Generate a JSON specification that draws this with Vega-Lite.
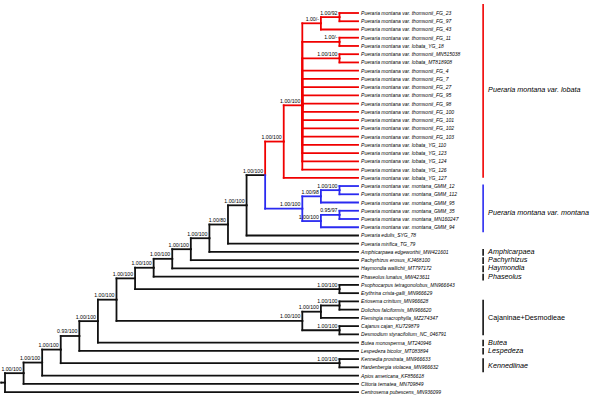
{
  "$schema": "https://vega.github.io/schema/vega-lite/v6.json",
  "width": 600,
  "height": 402,
  "padding": 0,
  "autosize": {"type": "none"},
  "background": "white",
  "view": {"stroke": null},
  "config": {"font": "Liberation Sans"},
  "datasets": {
    "edges": [
      {"px":18,"cx":19,"py":1.5,"cy":1,"g":"lobata"},
      {"px":18,"cx":19,"py":1.5,"cy":2,"g":"lobata"},
      {"px":17,"cx":18,"py":2.25,"cy":1.5,"g":"lobata"},
      {"px":17,"cx":19,"py":2.25,"cy":3,"g":"lobata"},
      {"px":16,"cx":17,"py":12.203,"cy":2.25,"g":"lobata"},
      {"px":18,"cx":19,"py":4.5,"cy":4,"g":"lobata"},
      {"px":18,"cx":19,"py":4.5,"cy":5,"g":"lobata"},
      {"px":16,"cx":18,"py":12.203,"cy":4.5,"g":"lobata"},
      {"px":18,"cx":19,"py":6.5,"cy":6,"g":"lobata"},
      {"px":18,"cx":19,"py":6.5,"cy":7,"g":"lobata"},
      {"px":16,"cx":18,"py":12.203,"cy":6.5,"g":"lobata"},
      {"px":16,"cx":19,"py":12.203,"cy":8,"g":"lobata"},
      {"px":16,"cx":19,"py":12.203,"cy":9,"g":"lobata"},
      {"px":16,"cx":19,"py":12.203,"cy":10,"g":"lobata"},
      {"px":16,"cx":19,"py":12.203,"cy":11,"g":"lobata"},
      {"px":16,"cx":19,"py":12.203,"cy":12,"g":"lobata"},
      {"px":16,"cx":19,"py":12.203,"cy":13,"g":"lobata"},
      {"px":16,"cx":19,"py":12.203,"cy":14,"g":"lobata"},
      {"px":16,"cx":19,"py":12.203,"cy":15,"g":"lobata"},
      {"px":16,"cx":19,"py":12.203,"cy":16,"g":"lobata"},
      {"px":16,"cx":19,"py":12.203,"cy":17,"g":"lobata"},
      {"px":16,"cx":19,"py":12.203,"cy":18,"g":"lobata"},
      {"px":16,"cx":19,"py":12.203,"cy":19,"g":"lobata"},
      {"px":16,"cx":19,"py":12.203,"cy":20,"g":"lobata"},
      {"px":15,"cx":16,"py":16.602,"cy":12.203,"g":"lobata"},
      {"px":15,"cx":19,"py":16.602,"cy":21,"g":"lobata"},
      {"px":14,"cx":15,"py":20.676,"cy":16.602,"g":"lobata"},
      {"px":18,"cx":19,"py":22.5,"cy":22,"g":"montana"},
      {"px":18,"cx":19,"py":22.5,"cy":23,"g":"montana"},
      {"px":17,"cx":18,"py":23.25,"cy":22.5,"g":"montana"},
      {"px":17,"cx":19,"py":23.25,"cy":24,"g":"montana"},
      {"px":16,"cx":17,"py":24.75,"cy":23.25,"g":"montana"},
      {"px":18,"cx":19,"py":25.5,"cy":25,"g":"montana"},
      {"px":18,"cx":19,"py":25.5,"cy":26,"g":"montana"},
      {"px":17,"cx":18,"py":26.25,"cy":25.5,"g":"montana"},
      {"px":17,"cx":19,"py":26.25,"cy":27,"g":"montana"},
      {"px":16,"cx":17,"py":24.75,"cy":26.25,"g":"montana"},
      {"px":14,"cx":16,"py":20.676,"cy":24.75,"g":"montana"},
      {"px":13,"cx":14,"py":24.338,"cy":20.676,"g":"other"},
      {"px":13,"cx":19,"py":24.338,"cy":28,"g":"other"},
      {"px":12,"cx":13,"py":26.669,"cy":24.338,"g":"other"},
      {"px":12,"cx":19,"py":26.669,"cy":29,"g":"other"},
      {"px":11,"cx":12,"py":28.335,"cy":26.669,"g":"other"},
      {"px":11,"cx":19,"py":28.335,"cy":30,"g":"other"},
      {"px":10,"cx":11,"py":29.667,"cy":28.335,"g":"other"},
      {"px":10,"cx":19,"py":29.667,"cy":31,"g":"other"},
      {"px":9,"cx":10,"py":30.834,"cy":29.667,"g":"other"},
      {"px":9,"cx":19,"py":30.834,"cy":32,"g":"other"},
      {"px":8,"cx":9,"py":31.917,"cy":30.834,"g":"other"},
      {"px":8,"cx":19,"py":31.917,"cy":33,"g":"other"},
      {"px":7,"cx":8,"py":33.208,"cy":31.917,"g":"other"},
      {"px":18,"cx":19,"py":34.5,"cy":34,"g":"other"},
      {"px":18,"cx":19,"py":34.5,"cy":35,"g":"other"},
      {"px":7,"cx":18,"py":33.208,"cy":34.5,"g":"other"},
      {"px":6,"cx":7,"py":35.792,"cy":33.208,"g":"other"},
      {"px":18,"cx":19,"py":36.5,"cy":36,"g":"other"},
      {"px":18,"cx":19,"py":36.5,"cy":37,"g":"other"},
      {"px":17,"cx":18,"py":37.25,"cy":36.5,"g":"other"},
      {"px":17,"cx":19,"py":37.25,"cy":38,"g":"other"},
      {"px":16,"cx":17,"py":38.375,"cy":37.25,"g":"other"},
      {"px":18,"cx":19,"py":39.5,"cy":39,"g":"other"},
      {"px":18,"cx":19,"py":39.5,"cy":40,"g":"other"},
      {"px":16,"cx":18,"py":38.375,"cy":39.5,"g":"other"},
      {"px":6,"cx":16,"py":35.792,"cy":38.375,"g":"other"},
      {"px":5,"cx":6,"py":38.396,"cy":35.792,"g":"other"},
      {"px":5,"cx":19,"py":38.396,"cy":41,"g":"other"},
      {"px":4,"cx":5,"py":40.198,"cy":38.396,"g":"other"},
      {"px":4,"cx":19,"py":40.198,"cy":42,"g":"other"},
      {"px":3,"cx":4,"py":41.849,"cy":40.198,"g":"other"},
      {"px":18,"cx":19,"py":43.5,"cy":43,"g":"other"},
      {"px":18,"cx":19,"py":43.5,"cy":44,"g":"other"},
      {"px":3,"cx":18,"py":41.849,"cy":43.5,"g":"other"},
      {"px":2,"cx":3,"py":43.424,"cy":41.849,"g":"other"},
      {"px":2,"cx":19,"py":43.424,"cy":45,"g":"other"},
      {"px":1,"cx":2,"py":44.712,"cy":43.424,"g":"other"},
      {"px":1,"cx":19,"py":44.712,"cy":46,"g":"other"},
      {"px":0,"cx":1,"py":45.856,"cy":44.712,"g":"other"},
      {"px":0,"cx":19,"py":45.856,"cy":47,"g":"other"},
      {"px":-0.2,"cx":0,"py":45.856,"cy":45.856,"g":"other"}
    ],
    "tips": [
      {"i":1,"name":"Pueraria montana var. thomsonii_FG_23"},
      {"i":2,"name":"Pueraria montana var. thomsonii_FG_97"},
      {"i":3,"name":"Pueraria montana var. thomsonii_FG_43"},
      {"i":4,"name":"Pueraria montana var. thomsonii_FG_11"},
      {"i":5,"name":"Pueraria montana var. lobata_YG_18"},
      {"i":6,"name":"Pueraria montana var. thomsonii_MN515038"},
      {"i":7,"name":"Pueraria montana var. lobata_MT818908"},
      {"i":8,"name":"Pueraria montana var. thomsonii_FG_4"},
      {"i":9,"name":"Pueraria montana var. thomsonii_FG_7"},
      {"i":10,"name":"Pueraria montana var. thomsonii_FG_27"},
      {"i":11,"name":"Pueraria montana var. thomsonii_FG_95"},
      {"i":12,"name":"Pueraria montana var. thomsonii_FG_98"},
      {"i":13,"name":"Pueraria montana var. thomsonii_FG_100"},
      {"i":14,"name":"Pueraria montana var. thomsonii_FG_101"},
      {"i":15,"name":"Pueraria montana var. thomsonii_FG_102"},
      {"i":16,"name":"Pueraria montana var. thomsonii_FG_103"},
      {"i":17,"name":"Pueraria montana var. lobata_YG_110"},
      {"i":18,"name":"Pueraria montana var. lobata_YG_123"},
      {"i":19,"name":"Pueraria montana var. lobata_YG_124"},
      {"i":20,"name":"Pueraria montana var. lobata_YG_126"},
      {"i":21,"name":"Pueraria montana var. lobata_YG_127"},
      {"i":22,"name":"Pueraria montana var. montana_GMM_12"},
      {"i":23,"name":"Pueraria montana var. montana_GMM_112"},
      {"i":24,"name":"Pueraria montana var. montana_GMM_95"},
      {"i":25,"name":"Pueraria montana var. montana_GMM_35"},
      {"i":26,"name":"Pueraria montana var. montana_MN160247"},
      {"i":27,"name":"Pueraria montana var. montana_GMM_94"},
      {"i":28,"name":"Pueraria edulis_SYG_78"},
      {"i":29,"name":"Pueraria mirifica_TG_79"},
      {"i":30,"name":"Amphicarpaea edgeworthii_MW421601"},
      {"i":31,"name":"Pachyrhizus erosus_KJ468100"},
      {"i":32,"name":"Haymondia wallichii_MT797172"},
      {"i":33,"name":"Phaseolus lunatus_MW423611"},
      {"i":34,"name":"Psophocarpus tetragonolobus_MN966643"},
      {"i":35,"name":"Erythrina crista-galli_MN966629"},
      {"i":36,"name":"Eriosema crinitum_MN966628"},
      {"i":37,"name":"Dolichos falciformis_MN966620"},
      {"i":38,"name":"Flemingia macrophylla_MZ274347"},
      {"i":39,"name":"Cajanus cajan_KU729879"},
      {"i":40,"name":"Desmodium styracifolium_NC_046791"},
      {"i":41,"name":"Butea monosperma_MT240946"},
      {"i":42,"name":"Lespedeza bicolor_MT083894"},
      {"i":43,"name":"Kennedia prostrata_MN966633"},
      {"i":44,"name":"Hardenbergia violacea_MN966632"},
      {"i":45,"name":"Apios americana_KF856618"},
      {"i":46,"name":"Clitoria ternatea_MN709849"},
      {"i":47,"name":"Centrosema pubescens_MN936099"}
    ],
    "support": [
      {"lv":18,"y":1.5,"s":"1.00/92"},
      {"lv":17,"y":2.25,"s":"1.00/-"},
      {"lv":18,"y":4.5,"s":"1.00/-"},
      {"lv":18,"y":6.5,"s":"1.00/100"},
      {"lv":16,"y":12.203,"s":"1.00/100"},
      {"lv":15,"y":16.602,"s":"1.00/100"},
      {"lv":18,"y":22.5,"s":"1.00/100"},
      {"lv":17,"y":23.25,"s":"1.00/98"},
      {"lv":18,"y":25.5,"s":"0.95/97"},
      {"lv":17,"y":26.25,"s":"1.00/100"},
      {"lv":16,"y":24.75,"s":"1.00/100"},
      {"lv":14,"y":20.676,"s":"1.00/100"},
      {"lv":13,"y":24.338,"s":"1.00/100"},
      {"lv":12,"y":26.669,"s":"1.00/80"},
      {"lv":11,"y":28.335,"s":"1.00/100"},
      {"lv":10,"y":29.667,"s":"1.00/100"},
      {"lv":9,"y":30.834,"s":"1.00/100"},
      {"lv":8,"y":31.917,"s":"1.00/100"},
      {"lv":18,"y":34.5,"s":"1.00/100"},
      {"lv":7,"y":33.208,"s":"1.00/100"},
      {"lv":18,"y":36.5,"s":"1.00/100"},
      {"lv":17,"y":37.25,"s":"1.00/100"},
      {"lv":18,"y":39.5,"s":"1.00/100"},
      {"lv":16,"y":38.375,"s":"1.00/100"},
      {"lv":6,"y":35.792,"s":"1.00/100"},
      {"lv":5,"y":38.396,"s":"1.00/100"},
      {"lv":4,"y":40.198,"s":"0.93/100"},
      {"lv":18,"y":43.5,"s":"1.00/100"},
      {"lv":3,"y":41.849,"s":"1.00/100"},
      {"lv":2,"y":43.424,"s":"1.00/100"},
      {"lv":1,"y":44.712,"s":"1.00/100"}
    ],
    "clades": [
      {"y1":-0.1,"y2":21.0,"ylab":10.35,"label":"Pueraria montana var. lobata","g":"lobata","it":true},
      {"y1":21.8,"y2":27.6,"ylab":25.25,"label":"Pueraria montana var. montana","g":"montana","it":true},
      {"y1":29.65,"y2":30.45,"ylab":30,"label":"Amphicarpaea","g":"other","it":true},
      {"y1":30.65,"y2":31.45,"ylab":31,"label":"Pachyrhizus","g":"other","it":true},
      {"y1":31.65,"y2":32.45,"ylab":32,"label":"Haymondia","g":"other","it":true},
      {"y1":32.65,"y2":33.45,"ylab":33,"label":"Phaseolus","g":"other","it":true},
      {"y1":35.8,"y2":40.1,"ylab":38,"label":"Cajaninae+Desmodieae","g":"other","it":false},
      {"y1":40.65,"y2":41.45,"ylab":41,"label":"Butea","g":"other","it":true},
      {"y1":41.65,"y2":42.45,"ylab":42,"label":"Lespedeza","g":"other","it":true},
      {"y1":42.9,"y2":44.6,"ylab":43.8,"label":"Kennediinae","g":"other","it":true}
    ]
  },
  "layer": [
    {
      "data": {"name": "edges"},
      "mark": {"type": "rule", "strokeWidth": 1.8, "strokeCap": "square"},
      "encoding": {
        "x": {"field": "px", "type": "quantitative", "scale": {"domain": [-0.269, 32.02], "nice": false, "zero": false}, "axis": null},
        "x2": {"field": "cx"},
        "y": {"field": "cy", "type": "quantitative", "scale": {"domain": [-0.578, 48.21], "reverse": true, "nice": false, "zero": false}, "axis": null},
        "color": {"field": "g", "type": "nominal", "scale": {"domain": ["lobata", "montana", "other"], "range": ["#f00000", "#2a2af0", "#111111"]}, "legend": null}
      }
    },
    {
      "data": {"name": "edges"},
      "mark": {"type": "rule", "strokeWidth": 1.8, "strokeCap": "square"},
      "encoding": {
        "x": {"field": "px", "type": "quantitative", "axis": null},
        "y": {"field": "py", "type": "quantitative", "axis": null},
        "y2": {"field": "cy"},
        "color": {"field": "g", "type": "nominal", "legend": null}
      }
    },
    {
      "data": {"name": "tips"},
      "mark": {"type": "text", "align": "left", "baseline": "middle", "dx": 3, "fontSize": 5, "fontStyle": "italic", "font": "Liberation Sans", "color": "#000000"},
      "encoding": {
        "x": {"datum": 19, "type": "quantitative"},
        "y": {"field": "i", "type": "quantitative"},
        "text": {"field": "name"}
      }
    },
    {
      "data": {"name": "support"},
      "mark": {"type": "text", "align": "right", "baseline": "alphabetic", "dx": -2, "dy": -2.5, "fontSize": 5.2, "font": "Liberation Sans", "color": "#000000"},
      "encoding": {
        "x": {"field": "lv", "type": "quantitative"},
        "y": {"field": "y", "type": "quantitative"},
        "text": {"field": "s"}
      }
    },
    {
      "data": {"name": "clades"},
      "mark": {"type": "rule", "strokeWidth": 1.6},
      "encoding": {
        "x": {"datum": 25.73, "type": "quantitative"},
        "y": {"field": "y1", "type": "quantitative"},
        "y2": {"field": "y2"},
        "color": {"field": "g", "type": "nominal", "legend": null}
      }
    },
    {
      "data": {"name": "clades"},
      "transform": [{"filter": "datum.it"}],
      "mark": {"type": "text", "align": "left", "baseline": "middle", "dx": 5, "fontSize": 7.2, "fontStyle": "italic", "font": "Liberation Sans", "color": "#000000"},
      "encoding": {
        "x": {"datum": 25.73, "type": "quantitative"},
        "y": {"field": "ylab", "type": "quantitative"},
        "text": {"field": "label"}
      }
    },
    {
      "data": {"name": "clades"},
      "transform": [{"filter": "!datum.it"}],
      "mark": {"type": "text", "align": "left", "baseline": "middle", "dx": 5, "fontSize": 7.2, "font": "Liberation Sans", "color": "#000000"},
      "encoding": {
        "x": {"datum": 25.73, "type": "quantitative"},
        "y": {"field": "ylab", "type": "quantitative"},
        "text": {"field": "label"}
      }
    }
  ]
}
